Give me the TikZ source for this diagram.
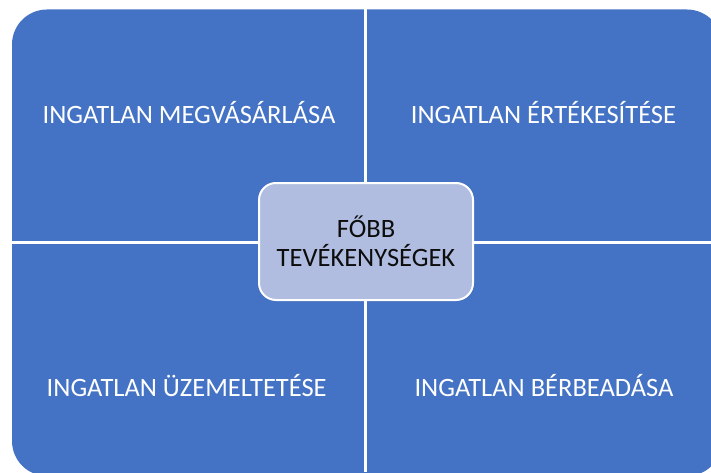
\documentclass[tikz,border=0pt]{standalone}
\usepackage{fontspec}
\setmainfont{Carlito}

\tikzstyle{quad-text}=[anchor=base, text=white, inner sep=0pt, font=\fontsize{26.5}{29}\selectfont]
\tikzstyle{gap}=[white, line width=3pt]
\tikzstyle{center-box}=[draw=white, line width=2pt, fill={CenterFill}, rounded corners=17pt,
      minimum width=214pt, minimum height=117pt, align=center, text={CenterText},
      font=\fontsize{26.5}{29}\selectfont]
\definecolor{QuadBlue}{HTML}{4472C4}
\definecolor{CenterFill}{HTML}{B0BDE0}
\definecolor{CenterText}{HTML}{0D0D0D}

\begin{document}
\begin{tikzpicture}[x=1pt, y=1pt]
      \fill[white] (0,0) rectangle (711,472);
      \clip (0,0) rectangle (711,472);

      % one rounded block, split into four by white gaps
      \fill[QuadBlue, rounded corners=35pt] (12,-4) rectangle (722,462.5);
      \coordinate (gap-top) at (365.8,472);
      \coordinate (gap-bottom) at (365.8,0);
      \coordinate (gap-left) at (0,229.5);
      \coordinate (gap-right) at (711,229.5);
      \draw[gap] (gap-top) -- (gap-bottom);
      \draw[gap] (gap-left) -- (gap-right);

      \node (buy) at (189,348.7) [quad-text] {INGATLAN MEGVÁSÁRLÁSA};
      \node (sell) at (543.5,348.7) [quad-text] {INGATLAN ÉRTÉKESÍTÉSE};
      \node (operate) at (186.7,75.3) [quad-text] {INGATLAN ÜZEMELTETÉSE};
      \node (lease) at (544,75.3) [quad-text] {INGATLAN BÉRBEADÁSA};

      \node (main) at (366,230.5) [center-box] {FŐBB\\TEVÉKENYSÉGEK};
\end{tikzpicture}
\end{document}
